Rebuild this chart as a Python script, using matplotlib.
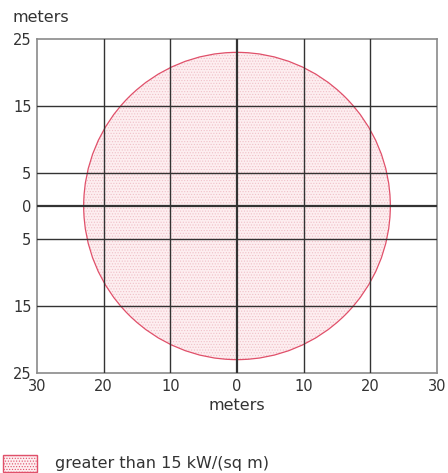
import matplotlib
matplotlib.use("Agg")
import matplotlib.pyplot as plt
from matplotlib.patches import Circle, Rectangle

# data
x_ticks = [-30, -20, -10, 0, 10, 20, 30]
x_tick_labels = ["30", "20", "10", "0", "10", "20", "30"]
y_ticks = [25, 15, 5, 0, -5, -15, -25]
y_tick_labels = ["25", "15", "5", "0", "5", "15", "25"]
zone_center = (0.0, 0.0)
zone_radius = 23.0
zone_label = "greater than 15 kW/(sq m)"
axis_label = "meters"

W, H = 448, 473
fig = plt.figure(figsize=(W / 100, H / 100), dpi=100)
L, R, T, B = 37, 437, 39, 373
ax = fig.add_axes([L / W, 1 - B / H, (R - L) / W, (B - T) / H])
ax.set_xlim(-30, 30)
ax.set_ylim(-25, 25)

grid_c = "#333333"
for xv in x_ticks[1:-1]:
    ax.axvline(xv, color=grid_c, lw=1.6 if xv == 0 else 1.0, zorder=3)
for yv in y_ticks[1:-1]:
    ax.axhline(yv, color=grid_c, lw=1.6 if yv == 0 else 1.0, zorder=3)

plt.rcParams["hatch.linewidth"] = 0.5
fill = Circle(zone_center, zone_radius, facecolor="#fdeef0", edgecolor="#f0c0c8",
              hatch="......", lw=0, zorder=1)
ax.add_patch(fill)
edge = Circle(zone_center, zone_radius, facecolor="none", edgecolor="#e0506a",
              lw=0.9, zorder=2)
ax.add_patch(edge)

for s in ax.spines.values():
    s.set_color("#8a8a8a")
    s.set_linewidth(1.2)

fs = 10.5
fs_txt = 11.5
tc = "#333333"
ax.set_xticks(x_ticks)
ax.set_xticklabels(x_tick_labels, fontsize=fs, color=tc)
ax.set_yticks(y_ticks)
ax.set_yticklabels(y_tick_labels, fontsize=fs, color=tc)
ax.tick_params(length=0, pad=4)
ax.set_xlabel(axis_label, fontsize=fs_txt, color=tc, labelpad=3)
fig.text(12 / W, 1 - 18 / H, axis_label, fontsize=fs_txt, color=tc, va="center", ha="left")

# legend
lx, ly, lw_, lh = 3, 455, 34, 17
fig.patches.append(Rectangle((lx / W, 1 - (ly + lh) / H), lw_ / W, lh / H,
                             transform=fig.transFigure, facecolor="#fdeef0",
                             edgecolor="#e0506a", lw=1.0, hatch="......"))
fig.text(55 / W, 1 - 463 / H, zone_label, fontsize=fs_txt, color=tc, va="center", ha="left")

fig.savefig("out.png", dpi=100)
